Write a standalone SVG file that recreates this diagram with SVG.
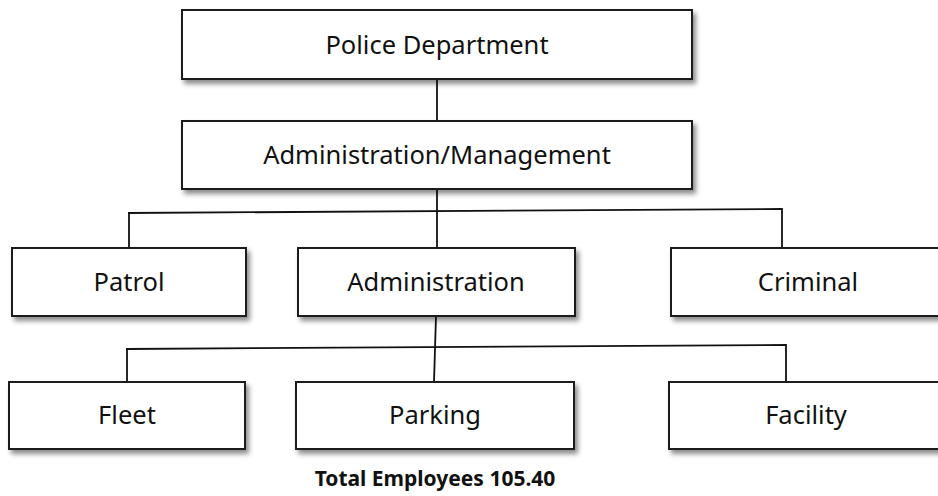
<svg xmlns="http://www.w3.org/2000/svg" width="938" height="496" viewBox="0 0 938 496">
  <defs>
    <filter id="shadow" x="-10%" y="-20%" width="130%" height="160%">
      <feDropShadow dx="3" dy="4" stdDeviation="2.5" flood-color="#000" flood-opacity="0.45"/>
    </filter>
  </defs>
  <style>
    .box { fill: #ffffff; stroke: #1a1a1a; stroke-width: 2; filter: url(#shadow); }
    .label { font-family: "Noto Sans", "Open Sans", sans-serif; font-size: 25.5px; fill: #111; text-anchor: middle; }
    .total { font-family: "Noto Sans", "Open Sans", sans-serif; font-size: 21px; font-weight: bold; fill: #111; text-anchor: middle; }
    .conn { fill: none; stroke: #111; stroke-width: 1.8; }
  </style>
  <rect width="938" height="496" fill="#ffffff"/>

  <!-- tree connectors -->
  <g id="connectors">
    <line class="conn" x1="437" y1="79" x2="437" y2="120"/>
    <line class="conn" x1="437" y1="189" x2="437" y2="248"/>
    <line class="conn" x1="128" y1="213" x2="782" y2="209"/>
    <line class="conn" x1="129" y1="212" x2="129" y2="248"/>
    <line class="conn" x1="782" y1="208" x2="782" y2="248"/>
    <line class="conn" x1="436" y1="316" x2="434" y2="382"/>
    <line class="conn" x1="126" y1="349" x2="786" y2="345"/>
    <line class="conn" x1="127" y1="348" x2="127" y2="382"/>
    <line class="conn" x1="786" y1="344" x2="786" y2="382"/>
  </g>

  <g id="police-department">
    <rect class="box" x="182" y="10" width="510" height="69"/>
    <text class="label" x="437" y="54">Police Department</text>
  </g>
  <g id="administration-management">
    <rect class="box" x="182" y="121" width="510" height="68"/>
    <text class="label" x="437" y="164">Administration/Management</text>
  </g>

  <g id="patrol">
    <rect class="box" x="12" y="248" width="234" height="68"/>
    <text class="label" x="129" y="291">Patrol</text>
  </g>
  <g id="administration">
    <rect class="box" x="298" y="248" width="277" height="68"/>
    <text class="label" x="436" y="291">Administration</text>
  </g>
  <g id="criminal">
    <rect class="box" x="671" y="248" width="276" height="68"/>
    <text class="label" x="808" y="291">Criminal</text>
  </g>

  <g id="fleet">
    <rect class="box" x="9" y="382" width="236" height="67"/>
    <text class="label" x="127" y="424">Fleet</text>
  </g>
  <g id="parking">
    <rect class="box" x="296" y="382" width="278" height="67"/>
    <text class="label" x="435" y="424">Parking</text>
  </g>
  <g id="facility">
    <rect class="box" x="669" y="382" width="276" height="67"/>
    <text class="label" x="806" y="424">Facility</text>
  </g>

  <g id="total">
    <text class="total" x="435" y="486">Total Employees 105.40</text>
  </g>
</svg>
